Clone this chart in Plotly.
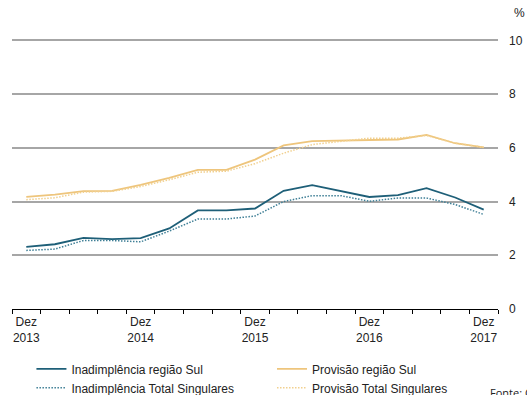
import plotly.graph_objects as go

quarters = ["Dez 2013", "Mar 2014", "Jun 2014", "Set 2014", "Dez 2014", "Mar 2015", "Jun 2015",
            "Set 2015", "Dez 2015", "Mar 2016", "Jun 2016", "Set 2016", "Dez 2016", "Mar 2017",
            "Jun 2017", "Set 2017", "Dez 2017"]
inad_sul = [2.31, 2.41, 2.65, 2.60, 2.64, 3.00, 3.67, 3.67, 3.74, 4.40, 4.61, 4.40, 4.17, 4.24, 4.50, 4.15, 3.70]
inad_total = [2.18, 2.23, 2.55, 2.55, 2.50, 2.90, 3.35, 3.35, 3.46, 4.00, 4.22, 4.22, 4.01, 4.13, 4.13, 3.89, 3.52]
prov_sul = [4.17, 4.26, 4.39, 4.40, 4.62, 4.88, 5.18, 5.18, 5.56, 6.09, 6.25, 6.27, 6.30, 6.31, 6.48, 6.17, 6.02]
prov_total = [4.07, 4.14, 4.35, 4.38, 4.56, 4.81, 5.09, 5.13, 5.41, 5.80, 6.12, 6.25, 6.36, 6.36, 6.46, 6.17, 6.02]
label_idx = [0, 4, 8, 12, 16]
label_text = ["Dez<br>2013", "Dez<br>2014", "Dez<br>2015", "Dez<br>2016", "Dez<br>2017"]

teal = "#1e5f78"
teal_dot = "#3f7f96"
gold = "#eec57c"
gold_dot = "#f1d08f"
dot_pattern = "1.5px,1.5px"

x = list(range(len(quarters)))
fig = go.Figure()
fig.add_trace(go.Scatter(x=x, y=inad_sul, mode="lines", name="Inadimplência região Sul",
                         line=dict(color=teal, width=1.8), legend="legend"))
fig.add_trace(go.Scatter(x=x, y=inad_total, mode="lines", name="Inadimplência Total Singulares",
                         line=dict(color=teal_dot, width=1.5, dash=dot_pattern), legend="legend"))
fig.add_trace(go.Scatter(x=x, y=prov_sul, mode="lines", name="Provisão região Sul",
                         line=dict(color=gold, width=1.8), legend="legend2"))
fig.add_trace(go.Scatter(x=x, y=prov_total, mode="lines", name="Provisão Total Singulares",
                         line=dict(color=gold_dot, width=1.5, dash=dot_pattern), legend="legend2"))

leg_common = dict(orientation="v", yanchor="top", xanchor="left", font=dict(size=12),
                  itemwidth=30, tracegroupgap=0, bgcolor="rgba(0,0,0,0)")

fig.update_layout(
    width=527, height=395,
    margin=dict(l=12, r=29, t=39, b=86, autoexpand=False),
    paper_bgcolor="white", plot_bgcolor="white",
    font=dict(family="Liberation Sans, Arial, sans-serif", size=12, color="#222222"),
    showlegend=True,
    legend=dict(x=0.04, y=-0.168, **leg_common),
    legend2=dict(x=0.535, y=-0.168, **leg_common),
    xaxis=dict(range=[-0.5, 16.5], tickmode="array", tickvals=label_idx, ticktext=label_text,
               ticks="", showgrid=False, zeroline=False, showline=True, linecolor="black",
               linewidth=1, ticklabelstandoff=2,
               minor=dict(tickmode="array", tickvals=[i - 0.5 for i in range(len(quarters) + 1)],
                          ticks="outside", ticklen=4, tickcolor="black", tickwidth=1, showgrid=False)),
    yaxis=dict(range=[0, 10.05], tickvals=[0, 2, 4, 6, 8, 10], side="right", showgrid=True,
               gridcolor="#a6a6a6", gridwidth=1.5, zeroline=False, ticks="",
               ticklabelstandoff=10, showline=False),
    annotations=[
        dict(text="%", xref="paper", yref="paper", x=1.0, y=1.0, xshift=14, yshift=17,
             xanchor="left", yanchor="bottom", showarrow=False, font=dict(size=12)),
        dict(text="Fonte: Cosif", xref="paper", yref="paper", x=1.0, y=-0.3086,
             xshift=-10, xanchor="left", yanchor="middle", showarrow=False,
             font=dict(size=11, family="Open Sans, sans-serif")),
    ],
)

fig.write_html("out.html")
